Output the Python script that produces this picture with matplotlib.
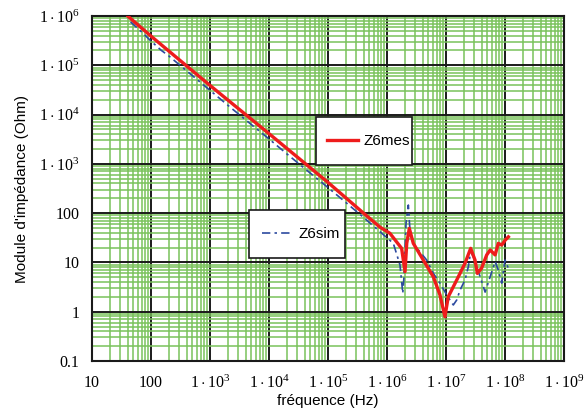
import matplotlib
matplotlib.use("Agg")
import matplotlib.pyplot as plt
from matplotlib.patches import Rectangle
from matplotlib.ticker import FixedLocator, LogLocator, NullFormatter, FixedFormatter

# ---- data ----
f_mes = [41, 100, 1e3, 1e4, 1e5, 2e5, 4e5, 7.6e5, 1.12e6, 1.77e6, 2.02e6, 2.16e6, 2.39e6,
         2.79e6, 4.12e6, 6.1e6, 7.9e6, 9.6e6, 1.09e7, 1.52e7, 2.1e7, 2.62e7, 3.1e7, 3.4e7,
         4.0e7, 4.9e7, 5.6e7, 6.8e7, 7.7e7, 8.8e7, 1.0e8, 1.14e8]
z_mes = [9.8e5, 3.9e5, 3.9e4, 4.1e3, 420, 205, 100, 52, 39, 19.3, 6.5, 24.4, 49,
         24.4, 11.2, 5.1, 2.19, 0.79, 2.0, 4.4, 9.6, 19.3, 11.2, 6.0,
         7.6, 14.2, 17.9, 14.2, 24.4, 22.5, 28, 33]

f_sim = [45, 70, 100, 150, 200, 500, 1e3, 2e3, 5e3, 1e4, 2e4, 5e4, 1e5, 2e5, 4e5, 7.6e5,
         1.28e6, 1.66e6, 1.85e6, 1.94e6, 2.1e6, 2.3e6, 2.45e6, 2.79e6, 3.6e6, 4.7e6,
         6.1e6, 7.9e6, 1.03e7, 1.17e7, 1.33e7, 1.52e7, 1.73e7, 2.1e7, 2.39e7, 2.62e7,
         2.9e7, 3.3e7, 3.8e7, 4.6e7, 5.6e7, 6.8e7, 7.7e7, 8.8e7, 1.0e8, 1.14e8]
z_sim = [7.6e5, 4.7e5, 3.1e5, 2.0e5, 1.55e5, 6.2e4, 3.1e4, 1.55e4, 6.3e3, 3.2e3, 1.6e3, 650,
         330, 165, 82, 42,
         24.4, 8.9, 2.36, 5.1, 62, 146, 45, 24.4, 16.5, 11.2,
         6.0, 3.8, 2.18, 1.73, 1.37, 1.73, 2.75, 4.4, 8.2, 16.5,
         13.1, 8.2, 5.1, 2.5, 5.1, 10.4, 7.0, 3.8, 11.2, 7.6]

x_ticks = [1e1, 1e2, 1e3, 1e4, 1e5, 1e6, 1e7, 1e8, 1e9]
x_labels = ["10", "100", r"$1\cdot10^{3}$", r"$1\cdot10^{4}$", r"$1\cdot10^{5}$",
            r"$1\cdot10^{6}$", r"$1\cdot10^{7}$", r"$1\cdot10^{8}$", r"$1\cdot10^{9}$"]
y_ticks = [0.1, 1, 10, 100, 1e3, 1e4, 1e5, 1e6]
y_labels = ["0.1", "1", "10", "100", r"$1\cdot10^{3}$", r"$1\cdot10^{4}$",
            r"$1\cdot10^{5}$", r"$1\cdot10^{6}$"]

plt.rcParams['mathtext.fontset'] = 'custom'
plt.rcParams['mathtext.rm'] = 'Liberation Serif'
plt.rcParams['mathtext.it'] = 'Liberation Serif:italic'

fig = plt.figure(figsize=(5.87, 4.12), dpi=100)
ax = fig.add_axes([92/587, 1-361/412, 472/587, 345/412])

ax.set_xscale('log')
ax.set_yscale('log')
ax.set_xlim(10, 1e9)
ax.set_ylim(0.1, 1e6)

ax.xaxis.set_major_locator(FixedLocator(x_ticks))
ax.xaxis.set_major_formatter(FixedFormatter(x_labels))
ax.yaxis.set_major_locator(FixedLocator(y_ticks))
ax.yaxis.set_major_formatter(FixedFormatter(y_labels))
ax.xaxis.set_minor_locator(LogLocator(base=10, subs=range(2, 10), numticks=100))
ax.yaxis.set_minor_locator(LogLocator(base=10, subs=range(2, 10), numticks=100))
ax.xaxis.set_minor_formatter(NullFormatter())
ax.yaxis.set_minor_formatter(NullFormatter())

ax.grid(True, which='minor', color='#79c25b', lw=1.1, zorder=0)
ax.grid(True, which='major', color='#1a1a1a', lw=1.4, zorder=1)
ax.set_axisbelow(True)
ax.tick_params(which='both', length=0)
ax.tick_params(axis='x', pad=10)
ax.tick_params(axis='y', pad=9)
for lab in ax.get_xticklabels() + ax.get_yticklabels():
    lab.set_fontfamily('Liberation Serif')
    lab.set_fontsize(11.5)
for s in ax.spines.values():
    s.set_linewidth(1.5)
    s.set_color('#1a1a1a')

l_sim, = ax.plot(f_sim, z_sim, color='#2c4aa0', lw=1.2, dashes=(5, 2.5, 1.5, 2.5),
                 label='Z6sim', zorder=3)
l_mes, = ax.plot(f_mes, z_mes, color='#ee1c1c', lw=2.4, label='Z6mes', zorder=4)

ax.set_xlabel('fréquence (Hz)', fontfamily='Liberation Sans', fontsize=11, labelpad=1)
ax.set_ylabel("Module d'impédance (Ohm)", fontfamily='Liberation Sans', fontsize=11,
              labelpad=7)

# legend boxes (axes fractions)
boxes = [(0.4746, 0.568, 0.2034, 0.139), (0.3326, 0.2986, 0.2034, 0.1391)]
for (bx, by, bw, bh) in boxes:
    ax.add_patch(Rectangle((bx, by), bw, bh, transform=ax.transAxes, facecolor='white',
                           edgecolor='#1a1a1a', lw=1.2, zorder=5))

legkw = dict(loc='center left', frameon=False, borderpad=0.0, handlelength=2.0,
             handletextpad=0.4, borderaxespad=0,
             prop={'family': 'Liberation Sans', 'size': 11})
leg1 = ax.legend(handles=[l_mes], bbox_to_anchor=(0.4746 + 11/472, 0.568 + 0.139/2), **legkw)
leg1.set_zorder(6)
ax.add_artist(leg1)
leg2 = ax.legend(handles=[l_sim], bbox_to_anchor=(0.3326 + 13/472, 0.2986 + 0.1391/2), **legkw)
leg2.set_zorder(6)

fig.savefig('out.png', dpi=100)
